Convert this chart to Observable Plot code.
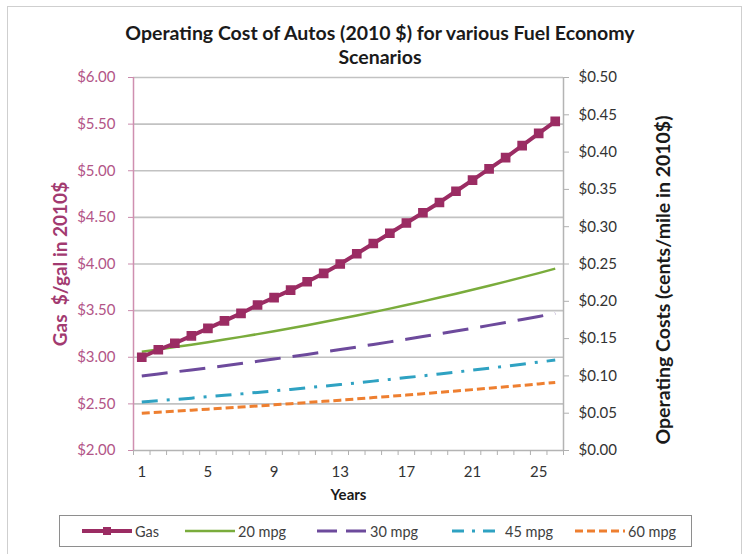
<!DOCTYPE html>
<html><head><meta charset="utf-8">
<script src="https://cdn.jsdelivr.net/npm/d3@7"></script>
<script src="https://cdn.jsdelivr.net/npm/@observablehq/plot@0.6"></script>
<style>
body{margin:0;background:#fff;font-family:Lato,"Open Sans",sans-serif;}
#wrap{position:relative;width:744px;height:554px;overflow:hidden;}
#frame{position:absolute;left:7px;top:6px;width:735px;height:570px;border:1px solid #cfcfcf;box-sizing:border-box;pointer-events:none;}
#title{position:relative;height:68px;text-align:center;font-weight:bold;font-size:19.5px;line-height:24px;padding-top:21px;padding-left:16px;box-sizing:border-box;color:#1a1a1a;}
#chart svg{display:block;}
#legend{position:absolute;left:59px;top:515px;width:633px;height:32px;border:1px solid #8e8e8e;box-sizing:border-box;}
.item{position:absolute;top:0;height:30px;display:flex;align-items:center;font-size:14.5px;color:#404040;}
.item svg{margin-right:3px;}
</style></head>
<body><div id="wrap">
<div id="frame"></div>
<div id="title">Operating Cost of Autos (2010 $) for various Fuel Economy<br>Scenarios</div>
<div id="chart"></div>
<div id="legend"></div>
</div>
<script>
const years = [1,2,3,4,5,6,7,8,9,10,11,12,13,14,15,16,17,18,19,20,21,22,23,24,25,26];
// Gas price, $/gal (left axis)
const gas = [3.00,3.08,3.15,3.23,3.31,3.39,3.47,3.56,3.64,3.72,3.81,3.90,4.00,4.11,4.22,4.33,4.44,4.55,4.66,4.78,4.90,5.02,5.14,5.27,5.40,5.53];
// Operating cost, $/mile (right axis)
const mpg20 = [0.1325,0.1355,0.1386,0.1419,0.1452,0.1487,0.1523,0.1560,0.1599,0.1639,0.1679,0.1722,0.1765,0.1809,0.1855,0.1902,0.1950,0.1999,0.2050,0.2102,0.2155,0.2209,0.2264,0.2321,0.2378,0.2438];
const mpg30 = [0.1000,0.1026,0.1053,0.1080,0.1108,0.1136,0.1165,0.1195,0.1226,0.1257,0.1288,0.1320,0.1353,0.1387,0.1421,0.1456,0.1491,0.1527,0.1564,0.1601,0.1639,0.1677,0.1716,0.1756,0.1797,0.1838];
const mpg45 = [0.0650,0.0667,0.0684,0.0702,0.0721,0.0740,0.0759,0.0779,0.0799,0.0819,0.0841,0.0862,0.0884,0.0907,0.0930,0.0953,0.0977,0.1001,0.1026,0.1051,0.1077,0.1103,0.1130,0.1157,0.1185,0.1212];
const mpg60 = [0.0500,0.0513,0.0526,0.0540,0.0554,0.0568,0.0582,0.0597,0.0612,0.0628,0.0643,0.0659,0.0675,0.0692,0.0709,0.0726,0.0743,0.0761,0.0779,0.0797,0.0816,0.0835,0.0854,0.0873,0.0893,0.0913];

const xTickLabels = [1,5,9,13,17,21,25];
const leftTicks = [2.0,2.5,3.0,3.5,4.0,4.5,5.0,5.5,6.0];
const rightTicks = [0,0.05,0.10,0.15,0.20,0.25,0.30,0.35,0.40,0.45,0.50];

const series = [
  {name:"20 mpg", values:mpg20, color:"#7aac3c", width:2.5, dash:null, legendDash:null},
  {name:"30 mpg", values:mpg30, color:"#6d4a9c", width:3, dash:"26,12", legendDash:"20,9"},
  {name:"45 mpg", values:mpg45, color:"#2fa2c2", width:3, dash:"16,9,3,9", legendDash:"12,8,3,8"},
  {name:"60 mpg", values:mpg60, color:"#ee7f30", width:3, dash:"8,4", legendDash:"8,4"}
];
const gasColor = "#9b2c63";
const pink = "#b25587";

// right axis ($/mile) shares the frame: 0..0.50 maps onto 2..6
const toLeft = v => 2 + v * 8;
const toRight = v => (v - 2) / 8;

const gasData = years.map((y, i) => ({year: y, value: gas[i]}));
const mpgData = series.flatMap(s => years.map((y, i) => ({year: y, cost: s.values[i], name: s.name})));
const xBounds = years.map(y => y - 0.5).concat([years[years.length - 1] + 0.5]);

const lineMarks = series.map(s => Plot.line(mpgData.filter(d => d.name === s.name), {
  x: "year", y: d => toLeft(d.cost), stroke: s.color, strokeWidth: s.width,
  strokeDasharray: s.dash, strokeLinecap: "butt"
}));

const plot = Plot.plot({
  width: 744, height: 442,
  marginTop: 9, marginBottom: 60, marginLeft: 133, marginRight: 181,
  x: {domain: [0.5, 26.5], label: null},
  y: {domain: [2, 6], label: null},
  style: {fontFamily: "Lato, 'Open Sans', sans-serif", fontSize: "15px", overflow: "visible", background: "transparent"},
  marks: [
    Plot.ruleY(leftTicks.filter(t => t > 2), {y: d => d, stroke: "#c2c2c2", strokeWidth: 1.6}),
    Plot.ruleY([2], {y: d => d, stroke: "#b4b4b4", strokeWidth: 1.5}),
    Plot.ruleX([26.5], {x: d => d, stroke: "#b4b4b4", strokeWidth: 1.5}),
    Plot.axisX({ticks: xBounds, tickSize: 5, tickFormat: () => "", stroke: "#b0b0b0", label: null}),
    Plot.axisX({ticks: xTickLabels, tickSize: 0, tickPadding: 16, fill: "#333", fontSize: 15, label: null}),
    Plot.axisY({anchor: "left", ticks: leftTicks, tickSize: 5, tickPadding: 13,
      tickFormat: d => "$" + d.toFixed(2), stroke: "#c98aab", fill: pink, fontSize: 15, label: null}),
    Plot.axisY({anchor: "right", ticks: rightTicks.map(toLeft), tickSize: 5, tickPadding: 10,
      tickFormat: d => "$" + toRight(d).toFixed(2), stroke: "#b0b0b0", fill: "#333", fontSize: 15, label: null}),
    Plot.ruleX([0.5], {x: d => d, stroke: "#cf8fb0", strokeWidth: 1.5}),
    ...lineMarks,
    Plot.line(gasData, {x: "year", y: "value", stroke: gasColor, strokeWidth: 4}),
    Plot.dot(gasData, {x: "year", y: "value", symbol: "square", r: 4.6, fill: gasColor, stroke: gasColor}),
    Plot.text(["Gas  $/gal in 2010$"], {frameAnchor: "left", dx: -73, rotate: -90, textAnchor: "middle", lineAnchor: "middle",
      fill: "#a23a70", fontWeight: "bold", fontSize: 19}),
    Plot.text(["Operating Costs (cents/mile in 2010$)"], {frameAnchor: "right", dx: 100, dy: 16, rotate: -90, textAnchor: "middle", lineAnchor: "middle",
      fill: "#1a1a1a", fontWeight: "bold", fontSize: 19.5}),
    Plot.text(["Years"], {frameAnchor: "bottom", dy: 45, textAnchor: "middle", lineAnchor: "middle",
      fill: "#1a1a1a", fontWeight: "bold", fontSize: 15})
  ]
});
document.getElementById("chart").appendChild(plot);

// legend
const legend = document.getElementById("legend");
const legendItems = [
  {name: "Gas", color: gasColor, width: 4, dash: null, marker: true, left: 22},
  ...series.map((s, i) => ({name: s.name, color: s.color, width: s.width, dash: s.legendDash, marker: false, left: [125, 257, 392, 515][i]}))
];
legendItems.forEach(it => {
  const div = document.createElement("div");
  div.className = "item";
  div.style.left = it.left + "px";
  const w = 50;
  let svg = `<svg width="${w}" height="12"><line x1="0" x2="${w}" y1="6" y2="6" stroke="${it.color}" stroke-width="${it.width}"${it.dash ? ` stroke-dasharray="${it.dash}"` : ""}/>`;
  if (it.marker) svg += `<rect x="${w/2-4}" y="2" width="8" height="8" fill="${it.color}"/>`;
  svg += `</svg>`;
  div.innerHTML = svg + `<span>${it.name}</span>`;
  legend.appendChild(div);
});
</script>
</body></html>
